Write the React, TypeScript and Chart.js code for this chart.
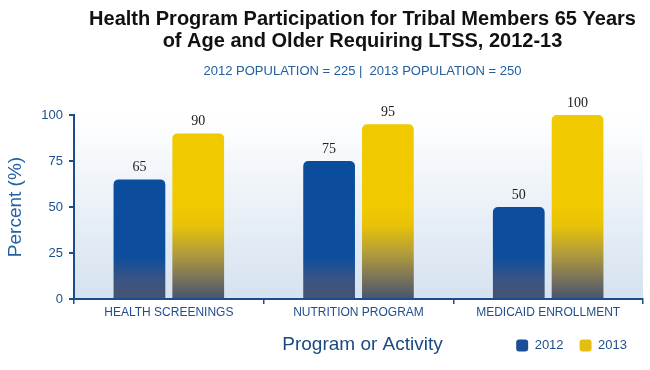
import { useEffect, useRef } from "react";
import { Chart, registerables } from "chart.js";

Chart.register(...registerables);

const categories = ["HEALTH SCREENINGS", "NUTRITION PROGRAM", "MEDICAID ENROLLMENT"];
const seriesLabels = ["2012", "2013"];
const values2012 = [65, 75, 50];
const values2013 = [90, 95, 100];
const yTicks = [0, 25, 50, 75, 100];
const titleLines = [
  "Health Program Participation for Tribal Members 65 Years",
  "of Age and Older Requiring LTSS, 2012-13",
];
const subtitleText = "2012 POPULATION = 225 |  2013 POPULATION = 250";
const xTitleText = "Program or Activity";
const yTitleText = "Percent (%)";

const FONT = "'Liberation Sans', Arial, sans-serif";
const AXIS = "#1b4c8c";
const TICK_TEXT = "#1f4e8c";

const BLUE = "#0c4e9c";
const YELLOW = "#f1c900";
const SLATE = "#475370";
const LEGEND_COLORS = ["#1a4f98", "#e3bf14"];

function blueFill(c: any) {
  const chart = c.chart;
  const a = chart.chartArea;
  if (!a || c.type !== "data") return BLUE;
  const g = chart.ctx.createLinearGradient(0, a.bottom, 0, a.top);
  g.addColorStop(0, SLATE);
  g.addColorStop(0.1, "#3b5482");
  g.addColorStop(0.23, BLUE);
  g.addColorStop(1, "#0a4c9c");
  return g;
}

function yellowFill(c: any) {
  const chart = c.chart;
  const a = chart.chartArea;
  if (!a || c.type !== "data") return YELLOW;
  const g = chart.ctx.createLinearGradient(0, a.bottom, 0, a.top);
  g.addColorStop(0, SLATE);
  g.addColorStop(0.12, "#7d7558");
  g.addColorStop(0.25, "#b39d3a");
  g.addColorStop(0.4, "#e8c208");
  g.addColorStop(0.5, YELLOW);
  g.addColorStop(1, YELLOW);
  return g;
}

const backgroundPlugin = {
  id: "plotBackground",
  beforeDraw(chart: any) {
    const a = chart.chartArea;
    if (!a) return;
    const ctx = chart.ctx;
    const g = ctx.createLinearGradient(0, a.top, 0, a.bottom);
    g.addColorStop(0, "#ffffff");
    g.addColorStop(1, "#d5e2ef");
    ctx.save();
    ctx.fillStyle = g;
    ctx.fillRect(a.left, a.top, a.right - a.left, a.bottom - a.top);
    ctx.restore();
  },
};

const textPlugin = {
  id: "texts",
  afterDraw(chart: any) {
    const a = chart.chartArea;
    const ctx = chart.ctx;
    const cx = (a.left + a.right) / 2 + 4;
    ctx.save();
    ctx.textAlign = "center";
    ctx.textBaseline = "middle";
    ctx.fillStyle = "#111111";
    ctx.font = `bold 20px ${FONT}`;
    ctx.fillText(titleLines[0], cx, 19);
    ctx.fillText(titleLines[1], cx, 41);
    ctx.fillStyle = "#22609f";
    ctx.font = `13px ${FONT}`;
    ctx.fillText(subtitleText, cx, 71);
    ctx.fillStyle = "#1a4a84";
    ctx.font = `19px ${FONT}`;
    ctx.fillText(xTitleText, cx, 345);
    ctx.restore();
  },
};

const valueLabelPlugin = {
  id: "valueLabels",
  afterDatasetsDraw(chart: any) {
    const ctx = chart.ctx;
    ctx.save();
    ctx.textAlign = "center";
    ctx.textBaseline = "bottom";
    ctx.fillStyle = "#222222";
    ctx.font = "14px 'Liberation Serif', 'Times New Roman', serif";
    chart.data.datasets.forEach((ds: any, i: number) => {
      const meta = chart.getDatasetMeta(i);
      meta.data.forEach((bar: any, j: number) => {
        ctx.fillText(String(ds.data[j]), bar.x, bar.y - 5);
      });
    });
    ctx.restore();
  },
};

export default function App() {
  const ref = useRef<HTMLCanvasElement | null>(null);

  useEffect(() => {
    document.body.style.margin = "0";
    const canvas = ref.current;
    if (!canvas) return;
    const chart = new Chart(canvas, {
      type: "bar",
      data: {
        labels: categories,
        datasets: [
          {
            label: seriesLabels[0],
            data: values2012,
            backgroundColor: blueFill,
            borderRadius: { topLeft: 5, topRight: 5, bottomLeft: 0, bottomRight: 0 },
            borderSkipped: "start",
            categoryPercentage: 0.62,
            barPercentage: 0.88,
          },
          {
            label: seriesLabels[1],
            data: values2013,
            backgroundColor: yellowFill,
            borderRadius: { topLeft: 5, topRight: 5, bottomLeft: 0, bottomRight: 0 },
            borderSkipped: "start",
            categoryPercentage: 0.62,
            barPercentage: 0.88,
          },
        ],
      },
      options: {
        animation: false,
        responsive: false,
        devicePixelRatio: 1,
        layout: { padding: { top: 115, left: 0, right: 7, bottom: 8 } },
        plugins: {
          title: { display: false },
          tooltip: { enabled: false },
          legend: {
            display: true,
            position: "bottom",
            align: "end",
            labels: {
              boxWidth: 12,
              boxHeight: 12,
              padding: 16,
              color: "#1f4e8c",
              font: { size: 13, family: FONT },
              useBorderRadius: true,
              borderRadius: 3,
              generateLabels: (chart: any) => {
                const items = Chart.defaults.plugins.legend.labels.generateLabels(chart);
                return items.map((it: any, i: number) => ({
                  ...it,
                  fillStyle: LEGEND_COLORS[i],
                  strokeStyle: LEGEND_COLORS[i],
                  lineWidth: 0,
                }));
              },
            },
          },
        },
        scales: {
          x: {
            offset: true,
            grid: {
              display: true,
              drawOnChartArea: false,
              drawTicks: true,
              tickLength: 5,
              offset: true,
              color: AXIS,
              lineWidth: 1.5,
            },
            border: { display: true, color: AXIS, width: 2 },
            ticks: {
              color: TICK_TEXT,
              font: { size: 12, family: FONT },
              padding: 1,
              maxRotation: 0,
            },
            afterFit: (s: any) => {
              s.height = 24;
            },
          },
          y: {
            min: 0,
            max: 100,
            afterBuildTicks: (s: any) => {
              s.ticks = yTicks.map((v) => ({ value: v }));
            },
            grid: {
              display: true,
              drawOnChartArea: false,
              drawTicks: true,
              tickLength: 5,
              color: AXIS,
              lineWidth: 2,
            },
            border: { display: true, color: AXIS, width: 2 },
            ticks: {
              color: TICK_TEXT,
              font: { size: 13, family: FONT },
              padding: 6,
            },
            title: {
              display: true,
              text: yTitleText,
              color: "#2461a3",
              font: { size: 19, family: FONT },
              padding: { top: 4, bottom: 0 },
            },
            afterFit: (s: any) => {
              s.width = 74;
            },
          },
        },
      },
      plugins: [backgroundPlugin, valueLabelPlugin, textPlugin],
    });
    return () => chart.destroy();
  }, []);

  return (
    <div style={{ width: 650, height: 370, background: "#ffffff" }}>
      <canvas ref={ref} width={650} height={370} style={{ display: "block" }} />
    </div>
  );
}
